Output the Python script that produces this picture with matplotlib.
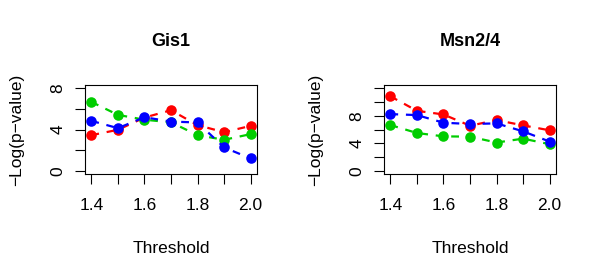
import numpy as np
import matplotlib
matplotlib.use('Agg')
import matplotlib.pyplot as plt

thresholds = [1.4, 1.5, 1.6, 1.7, 1.8, 1.9, 2.0]

# Gis1
gis1_red   = [3.45, 3.97, 5.16, 5.87, 4.42, 3.74, 4.35]
gis1_green = [6.68, 5.42, 4.95, 4.70, 3.45, 3.00, 3.55]
gis1_blue  = [4.84, 4.13, 5.19, 4.77, 4.68, 2.26, 1.19]

# Msn2/4
msn_red   = [10.84, 8.72, 8.19, 6.55, 7.37, 6.60, 5.88]
msn_green = [6.65, 5.49, 5.00, 4.96, 4.10, 4.67, 3.86]
msn_blue  = [8.24, 8.10, 6.99, 6.80, 6.89, 5.73, 4.24]

panels = [
    ("Gis1", gis1_red, gis1_green, gis1_blue, 8, [0, 2, 4, 6, 8]),
    ("Msn2/4", msn_red, msn_green, msn_blue, 12, [0, 2, 4, 6, 8, 10, 12]),
]

colors = {"red": "#FF0000", "green": "#00CD00", "blue": "#0000FF"}

plt.rcParams['font.family'] = ['Liberation Sans', 'DejaVu Sans']

fig = plt.figure(figsize=(6.0, 2.79), dpi=100)
lefts = [85 / 600, 384 / 600]
W, H = 600, 279

for left, (title, red, green, blue, ymax, yticks) in zip(lefts, panels):
    ax = fig.add_axes([left, 1 - 174 / H, 172 / W, 89 / H])
    for vals, c in [(red, "red"), (green, "green"), (blue, "blue")]:
        ax.plot(thresholds, vals, color=colors[c], linestyle=(0, (3.5, 3.5)),
                linewidth=1.6, marker="o", markersize=7.6,
                markeredgewidth=0)
    pad_x = 0.04 * (2.0 - 1.4)
    ax.set_xlim(1.4 - pad_x, 2.0 + pad_x)
    ax.set_ylim(-0.04 * ymax, ymax * 1.04)
    ax.set_xticks(thresholds)
    ax.set_xticklabels(["1.4", "", "1.6", "", "1.8", "", "2.0"])
    ax.set_yticks(yticks)
    ax.set_yticklabels([str(v) if v in (0, 4, 8) else "" for v in yticks],
                       rotation=90, va="center")
    ax.tick_params(axis="both", length=7.2, width=0.8, labelsize=12.5,
                   direction="out")
    ax.tick_params(axis="x", pad=10)
    ax.tick_params(axis="y", pad=7)
    for s in ax.spines.values():
        s.set_linewidth(0.8)
    ax.set_title(title, fontsize=13, fontweight="bold", pad=28)
    ax.set_xlabel("Threshold", fontsize=12.5, labelpad=20)
    ax.set_ylabel("\u2212Log(p\u2212value)", fontsize=12.5, labelpad=19)

fig.savefig("out.png", dpi=100)
